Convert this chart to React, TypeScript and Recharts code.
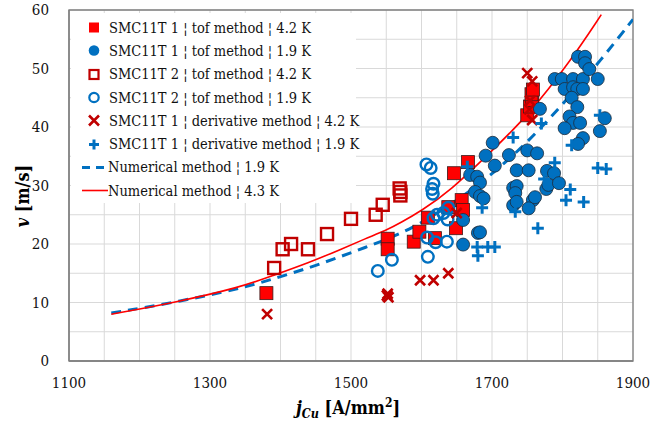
import {
  ComposedChart,
  Scatter,
  Line,
  XAxis,
  YAxis,
  CartesianGrid,
  Legend,
  ReferenceArea,
} from "recharts";

if (typeof document !== "undefined") document.body.style.margin = "0";

type Pt = [number, number];

// SMC11T 1 | tof method | 4.2 K
const tof1At42: Pt[] = [
  [1380, 11.6], [1552, 20.9], [1552, 19.1], [1589, 20.4], [1597, 22.1],
  [1609, 24.5], [1619, 21.0], [1638, 26.3], [1646, 32.1], [1666, 34.0],
  [1657, 27.5], [1659, 25.8], [1649, 22.7], [1750, 42.0], [1754, 43.5],
  [1757, 44.6], [1756, 45.6], [1758, 46.4],
];

// SMC11T 1 | tof method | 1.9 K
const tof1At19: Pt[] = [
  [1659, 19.9], [1659, 24.1], [1680, 21.9], [1683, 22.0], [1669, 31.8],
  [1679, 31.5], [1683, 30.5], [1676, 28.9], [1683, 28.2], [1688, 27.8],
  [1691, 35.1], [1701, 37.3], [1704, 33.4], [1724, 35.2], [1750, 36.0],
  [1764, 35.5], [1735, 32.6], [1752, 32.6], [1778, 32.5], [1788, 32.1],
  [1730, 29.6], [1735, 29.9], [1733, 28.7], [1730, 26.6], [1735, 27.2],
  [1758, 27.5], [1752, 26.1], [1761, 28.0], [1777, 29.4], [1780, 30.1],
  [1795, 30.4], [1768, 43.1], [1789, 48.2], [1799, 48.2], [1815, 48.2],
  [1829, 48.2], [1850, 48.2], [1803, 46.5], [1815, 46.8], [1821, 46.5],
  [1829, 46.5], [1813, 45.0], [1821, 43.4], [1810, 41.8], [1815, 40.7],
  [1825, 40.7], [1860, 41.5], [1803, 39.8], [1853, 39.3], [1829, 38.1],
  [1822, 37.1], [1822, 52.0], [1832, 52.0], [1832, 50.9], [1838, 49.9],
];

// SMC11T 2 | tof method | 4.2 K
const tof2At42: Pt[] = [
  [1391, 15.9], [1403, 19.1], [1415, 20.0], [1439, 19.1], [1466, 21.7],
  [1500, 24.3], [1535, 25.0], [1545, 26.7], [1569, 29.5], [1570, 28.9],
  [1570, 28.3],
];

// SMC11T 2 | tof method | 1.9 K
const tof2At19: Pt[] = [
  [1538, 15.4], [1558, 17.3], [1609, 17.8], [1608, 21.1], [1620, 20.3],
  [1636, 20.4], [1607, 33.6], [1613, 33.0], [1617, 30.3], [1615, 29.4],
  [1616, 28.6], [1622, 25.0], [1631, 25.3], [1638, 26.2], [1637, 24.2],
  [1617, 24.4],
];

// SMC11T 1 | derivative method | 4.2 K
const der1At42: Pt[] = [
  [1381, 8.0], [1552, 11.5], [1553, 10.9], [1551, 11.2], [1598, 13.8],
  [1617, 13.8], [1638, 15.0], [1650, 25.3], [1750, 49.2], [1757, 47.8],
  [1754, 44.5], [1753, 43.0], [1757, 41.2],
];

// SMC11T 1 | derivative method | 1.9 K
const der1At19: Pt[] = [
  [1665, 33.2], [1686, 26.2], [1679, 19.5], [1694, 19.5], [1704, 19.5],
  [1680, 18.0], [1733, 25.5], [1730, 38.2], [1765, 22.7], [1770, 40.6],
  [1774, 31.1], [1789, 33.9], [1813, 36.9], [1811, 29.3], [1805, 27.5],
  [1830, 27.2], [1850, 33.0], [1862, 32.8], [1853, 42.0],
];

// Numerical method curves
const num19: Pt[] = [
  [1160, 8.2], [1250, 10.0], [1343, 12.4], [1389, 14.0], [1440, 15.9],
  [1484, 17.8], [1520, 19.4], [1555, 21.0], [1584, 22.6], [1608, 24.2],
  [1650, 27.4], [1697, 31.6], [1751, 37.4], [1801, 44.0], [1849, 50.6],
  [1900, 58.4],
];
const num43: Pt[] = [
  [1160, 8.0], [1250, 10.0], [1343, 12.6], [1389, 14.6], [1440, 16.8],
  [1484, 19.0], [1520, 20.9], [1551, 22.4], [1570, 23.6], [1600, 25.7],
  [1640, 29.0], [1697, 35.6], [1750, 41.8], [1811, 51.2], [1855, 59.2],
];

const xTicks = [
  1100, 1150, 1200, 1250, 1300, 1350, 1400, 1450, 1500, 1550, 1600, 1650,
  1700, 1750, 1800, 1850, 1900,
];
const yTicks = [0, 5, 10, 15, 20, 25, 30, 35, 40, 45, 50, 55, 60];

const toRows = (pts: Pt[]) => pts.map(([x, y]) => ({ x, y }));

const RED = "#FF0000";
const DARK_RED = "#C00000";
const BLUE = "#0070C0";
// only DejaVu Serif is available as a serif face here
const FONT = "'DejaVu Serif Condensed', 'DejaVu Serif', serif";

const FilledSquare = (p: any) => (
  <rect x={p.cx - 6.5} y={p.cy - 6.5} width={13} height={13} fill={RED} stroke="#3b1a1a" strokeWidth={0.8} />
);
const FilledCircle = (p: any) => (
  <circle cx={p.cx} cy={p.cy} r={6.5} fill={BLUE} stroke="#1c2b3a" strokeWidth={0.8} />
);
const OpenSquare = (p: any) => (
  <rect x={p.cx - 6} y={p.cy - 6} width={12} height={12} fill="none" stroke={DARK_RED} strokeWidth={2.4} />
);
const OpenCircle = (p: any) => (
  <circle cx={p.cx} cy={p.cy} r={5.8} fill="none" stroke={BLUE} strokeWidth={2.4} />
);
const Cross = (p: any) => (
  <path d={`M${p.cx - 5},${p.cy - 5}L${p.cx + 5},${p.cy + 5}M${p.cx - 5},${p.cy + 5}L${p.cx + 5},${p.cy - 5}`} stroke={DARK_RED} strokeWidth={2.6} />
);
const Plus = (p: any) => (
  <path d={`M${p.cx - 6},${p.cy}L${p.cx + 6},${p.cy}M${p.cx},${p.cy - 6}L${p.cx},${p.cy + 6}`} stroke={BLUE} strokeWidth={3} />
);

const legendItems = [
  { label: "SMC11T 1 ¦ tof method ¦ 4.2 K", icon: "fsq" },
  { label: "SMC11T 1 ¦ tof method ¦ 1.9 K", icon: "fci" },
  { label: "SMC11T 2 ¦ tof method ¦ 4.2 K", icon: "osq" },
  { label: "SMC11T 2 ¦ tof method ¦ 1.9 K", icon: "oci" },
  { label: "SMC11T 1 ¦ derivative method ¦ 4.2 K", icon: "x" },
  { label: "SMC11T 1 ¦ derivative method ¦ 1.9 K", icon: "plus" },
  { label: "Numerical method ¦ 1.9 K", icon: "dash" },
  { label: "Numerical method ¦ 4.3 K", icon: "line" },
];

function LegendIcon({ kind }: { kind: string }) {
  let el: any = null;
  if (kind === "fsq") el = <rect x={18} y={6.5} width={10} height={10} fill={RED} />;
  if (kind === "fci") el = <circle cx={23} cy={11.5} r={5.3} fill={BLUE} />;
  if (kind === "osq") el = <rect x={18.5} y={7} width={9} height={9} fill="none" stroke={DARK_RED} strokeWidth={2.2} />;
  if (kind === "oci") el = <circle cx={23} cy={11.5} r={4.7} fill="none" stroke={BLUE} strokeWidth={2.2} />;
  if (kind === "x") el = <Cross cx={23} cy={11.5} />;
  if (kind === "plus")
    el = <path d="M18,11.5L28,11.5M23,6.5L23,16.5" stroke={BLUE} strokeWidth={3} />;
  if (kind === "dash")
    el = <line x1={11} y1={11.5} x2={37} y2={11.5} stroke={BLUE} strokeWidth={3} strokeDasharray="8 6" />;
  if (kind === "line") el = <line x1={11} y1={11.5} x2={37} y2={11.5} stroke={RED} strokeWidth={1.6} />;
  return (
    <svg width={38} height={23} style={{ display: "block", flex: "none" }}>
      {el}
    </svg>
  );
}

function renderLegend() {
  return (
    <div style={{ paddingTop: 3, background: "#fff", height: "100%", boxSizing: "border-box" }}>
      {legendItems.map((it) => (
        <div
          key={it.label}
          style={{
            display: "flex",
            alignItems: "center",
            height: 23.3,
            fontFamily: FONT,
            fontStretch: "condensed",
            fontSize: 14.5,
            color: "#111",
            whiteSpace: "nowrap",
          }}
        >
          <LegendIcon kind={it.icon} />
          <span style={{ marginLeft: it.icon === "dash" || it.icon === "line" ? -1 : 0 }}>{it.label}</span>
        </div>
      ))}
    </div>
  );
}

const XTitle = () => (
  <text x={348} y={414} textAnchor="middle" fontFamily={FONT} style={{ fontStretch: "condensed" }} fontSize={18} fontWeight="bold" fill="#000">
    <tspan fontStyle="italic">j</tspan>
    <tspan fontStyle="italic" fontSize={12.5} dy={4}>Cu</tspan>
    <tspan dy={-4}> [A/mm</tspan>
    <tspan fontSize={12} dy={-7}>2</tspan>
    <tspan dy={7}>]</tspan>
  </text>
);

const YTitle = () => (
  <text
    x={22}
    y={196}
    transform="rotate(-90 22 196)"
    textAnchor="middle"
    dominantBaseline="central"
    fontFamily={FONT}
    style={{ fontStretch: "condensed" }}
    fontSize={18}
    fontWeight="bold"
    fill="#000"
  >
    <tspan fontStyle="italic">v</tspan>
    <tspan> [m/s]</tspan>
  </text>
);

const tickStyle = { fontFamily: FONT, fontSize: 15, fill: "#111", style: { fontStretch: "condensed" } };

export default function App() {
  return (
    <div style={{ width: 651, height: 430, background: "#fff" }}>
      <ComposedChart width={651} height={430} margin={{ top: 10, right: 18, bottom: 0, left: 0 }}>
        <CartesianGrid stroke="#d9d9d9" strokeWidth={1} />
        <XAxis
          type="number"
          dataKey="x"
          domain={[1100, 1900]}
          ticks={xTicks}
          allowDataOverflow
          interval={0}
          height={69}
          tickSize={0}
          tickMargin={16}
          axisLine={{ stroke: "#7f7f7f", strokeWidth: 1.3 }}
          tick={tickStyle}
          tickFormatter={(v: number) => ((v - 1100) % 200 === 0 ? String(v) : "")}
          label={{ content: XTitle }}
        />
        <YAxis
          type="number"
          dataKey="y"
          domain={[0, 60]}
          ticks={yTicks}
          allowDataOverflow
          interval={0}
          width={69}
          tickSize={0}
          tickMargin={20}
          axisLine={{ stroke: "#7f7f7f", strokeWidth: 1.3 }}
          tick={tickStyle}
          tickFormatter={(v: number) => (v % 10 === 0 ? String(v) : "")}
          label={{ content: YTitle }}
        />
        <ReferenceArea x1={1100} x2={1900} y1={0} y2={60} fill="none" stroke="#7f7f7f" strokeWidth={1.3} ifOverflow="visible" />
        <Legend
          layout="vertical"
          align="center"
          verticalAlign="middle"
          content={renderLegend}
          wrapperStyle={{ left: 71, top: 13, width: 285, height: 190 }}
        />
        <Scatter name="SMC11T 1 ¦ tof method ¦ 4.2 K" data={toRows(tof1At42)} shape={FilledSquare} isAnimationActive={false} />
        <Scatter name="SMC11T 1 ¦ tof method ¦ 1.9 K" data={toRows(tof1At19)} shape={FilledCircle} isAnimationActive={false} />
        <Scatter name="SMC11T 2 ¦ tof method ¦ 4.2 K" data={toRows(tof2At42)} shape={OpenSquare} isAnimationActive={false} />
        <Scatter name="SMC11T 2 ¦ tof method ¦ 1.9 K" data={toRows(tof2At19)} shape={OpenCircle} isAnimationActive={false} />
        <Scatter name="SMC11T 1 ¦ derivative method ¦ 4.2 K" data={toRows(der1At42)} shape={Cross} isAnimationActive={false} />
        <Scatter name="SMC11T 1 ¦ derivative method ¦ 1.9 K" data={toRows(der1At19)} shape={Plus} isAnimationActive={false} />
        <Line
          name="Numerical method ¦ 1.9 K"
          data={toRows(num19)}
          dataKey="y"
          type="basis"
          stroke={BLUE}
          strokeWidth={3}
          strokeDasharray="10 7"
          dot={false}
          activeDot={false}
          isAnimationActive={false}
        />
        <Line
          name="Numerical method ¦ 4.3 K"
          data={toRows(num43)}
          dataKey="y"
          type="basis"
          stroke={RED}
          strokeWidth={1.6}
          dot={false}
          activeDot={false}
          isAnimationActive={false}
        />
      </ComposedChart>
    </div>
  );
}
